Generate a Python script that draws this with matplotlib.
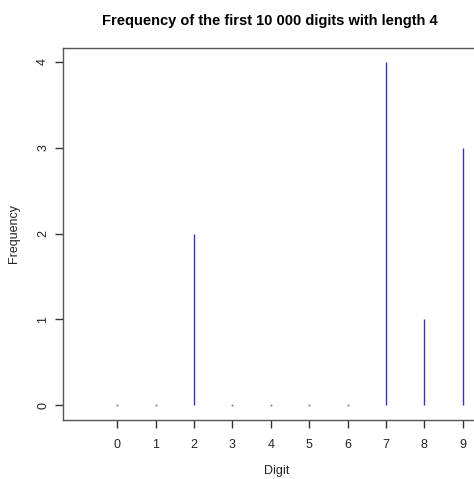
import numpy as np
import matplotlib.pyplot as plt

plt.rcParams['font.family'] = ['Liberation Sans', 'DejaVu Sans']

# frequency of each digit
digits = [0, 1, 2, 3, 4, 5, 6, 7, 8, 9]
freq = [0, 0, 2, 0, 0, 0, 0, 4, 1, 3]
yticks = [0, 1, 2, 3, 4]

fig = plt.figure(figsize=(4.74, 4.79), dpi=100)
ax = fig.add_axes([0.1329, 0.1232, 0.9008, 0.7766])

ax.vlines(digits, 0, freq, colors='#3737b4', linewidth=1.0)
# R draws zero-height spikes as tiny dots
zero = [d for d, f in zip(digits, freq) if f == 0]
ax.plot(zero, [0] * len(zero), linestyle='none', marker='s',
        markersize=1.2, color='#6a6a9a', markeredgewidth=0)

ax.set_xlim(-1.41, 9.71)
ax.set_ylim(-0.17, 4.16)
ax.set_xticks(digits)
ax.set_yticks(yticks)
ax.set_yticklabels([str(v) for v in yticks], rotation=90, va='center')

for s in ax.spines.values():
    s.set_color('#555555')
    s.set_linewidth(1.0)
ax.tick_params(axis='both', length=6, width=1, color='#333333',
               labelsize=9, labelcolor='#222222')
ax.tick_params(axis='x', pad=8)
ax.tick_params(axis='y', pad=4)

ax.set_xlabel('Digit', fontsize=9, labelpad=9.5, color='#222222')
ax.set_ylabel('Frequency', fontsize=9, labelpad=12, color='#222222')
fig.text(0.57, 0.957, 'Frequency of the first 10 000 digits with length 4',
         ha='center', va='center', fontsize=10.5, fontweight='bold')

fig.savefig('out.png', dpi=100)
